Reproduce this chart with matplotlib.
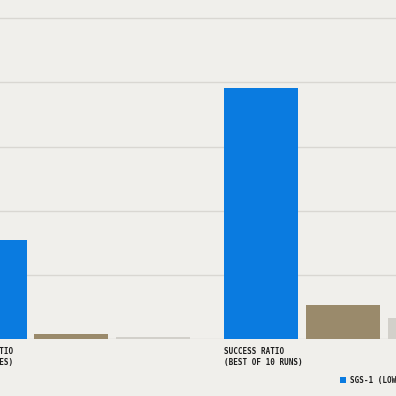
import numpy as np
import matplotlib
matplotlib.use("Agg")
import matplotlib.pyplot as plt

# data (success ratios)
groups = ["SUCCESS RATIO\n(ALL SAMPLES)", "SUCCESS RATIO\n(BEST OF 10 RUNS)"]
series = ["SGS-1 (LOW BUDGET)", "BASELINE A", "BASELINE B"]
sgs1 = [0.309, 0.782]
base_a = [0.017, 0.107]
base_b = [0.007, 0.065]
yticks = [0.0, 0.2, 0.4, 0.6, 0.8, 1.0]

bg = "#F0EFEB"
colors = ["#0A7BE0", "#9A8A6B", "#D2D0CA"]
grid_c = "#D9D7D2"
text_c = "#1E1E1E"

plt.rcParams['font.family'] = ['DejaVu Sans Mono']

fig = plt.figure(figsize=(3.96, 3.96), dpi=100, facecolor=bg)
base_px = 396 - 339.3
ax = fig.add_axes([0, base_px / 396, 1, 339.3 / 396])
ax.set_facecolor(bg)

pitch = 0.3007
width = 0.2724
x = np.arange(len(groups))
for j, (vals, name) in enumerate(zip([sgs1, base_a, base_b], series)):
    ax.bar(x + (j - 1) * pitch, vals, width=width, color=colors[j],
           label=name, zorder=3)

ax.set_xlim(-71.3 / 271.7, (396 - 71.3) / 271.7)
ax.set_ylim(0, 339.3 / 64.26 * 0.2)
ax.set_yticks(yticks)
ax.grid(axis='y', color=grid_c, linewidth=1.0, zorder=0)
ax.tick_params(left=False, bottom=False, labelleft=False, labelbottom=False)
for s in ax.spines.values():
    s.set_visible(False)

for i, g in enumerate(groups):
    ax.annotate(g, xy=(i - pitch - width / 2, 0), xytext=(0, -5.8),
                textcoords='offset points', ha='left', va='top',
                fontsize=5.5, color=text_c, fontweight='bold',
                linespacing=1.25, annotation_clip=False)

fig.legend(loc='center left', bbox_to_anchor=(340 / 396, 15.5 / 396),
           ncol=3, frameon=False, handlelength=0.8,
           handleheight=0.8, handletextpad=0.5, columnspacing=2.0,
           borderpad=0, borderaxespad=0, labelcolor=text_c,
           prop={'size': 5.5, 'weight': 'bold'})

fig.savefig("out.png", dpi=100, facecolor=bg)
